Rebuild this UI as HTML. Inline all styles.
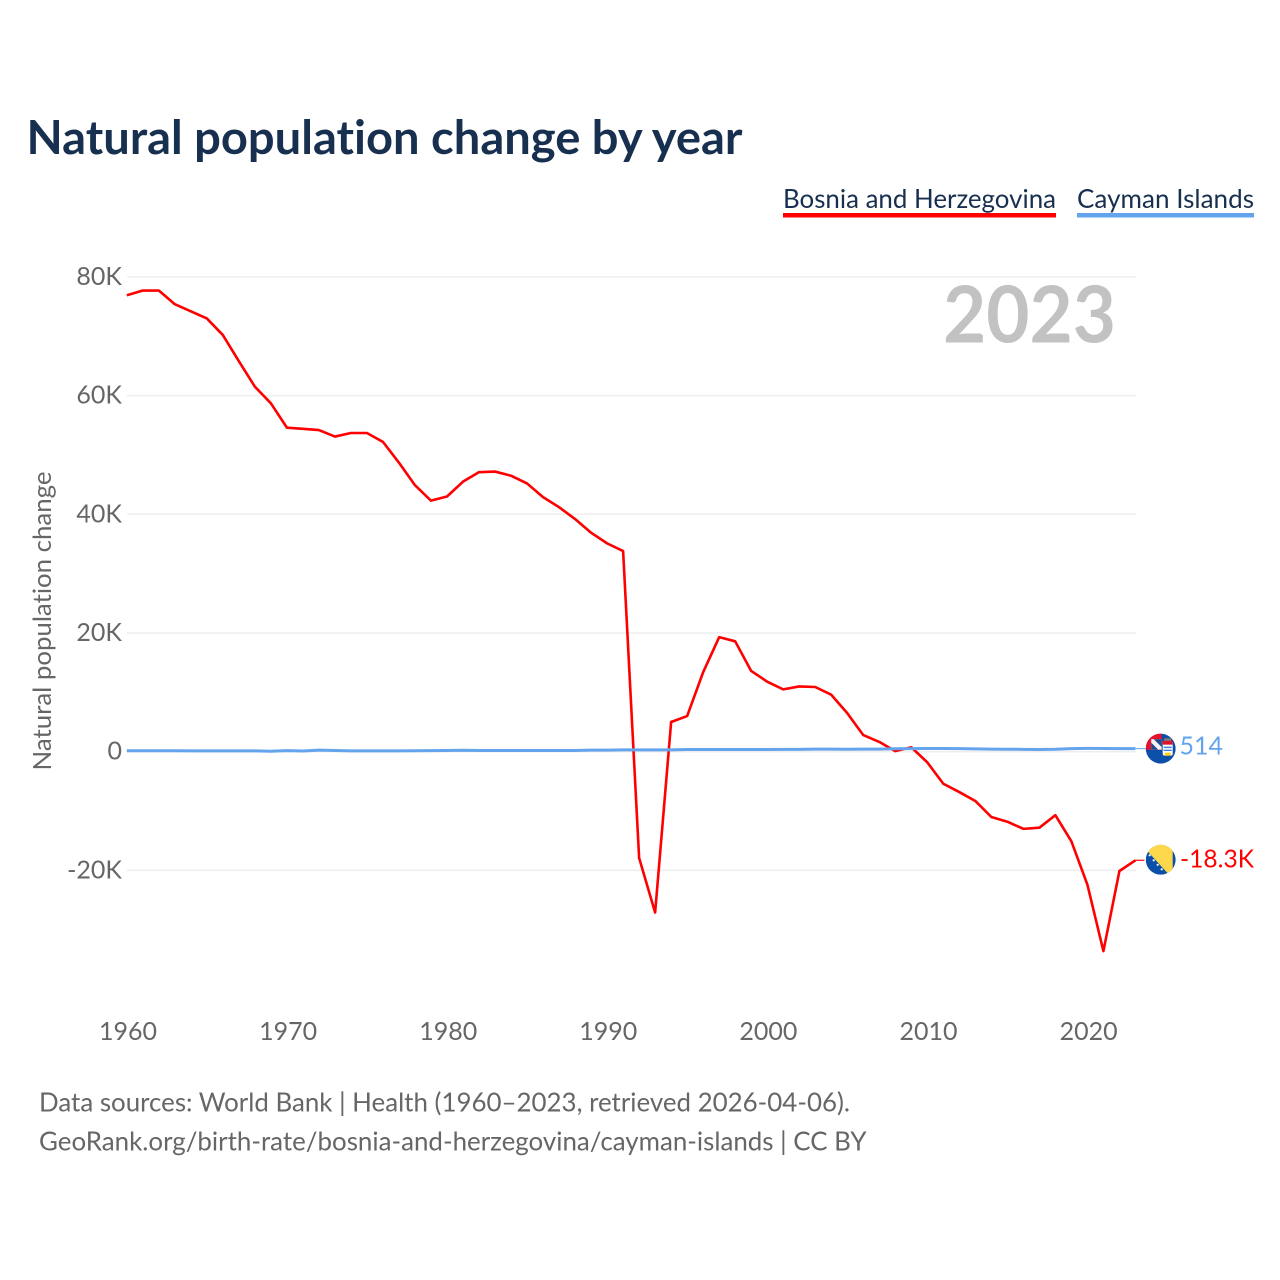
<!DOCTYPE html>
<html lang="en">
<head>
<meta charset="utf-8">
<title>Natural population change by year</title>
<style>
html,body{margin:0;padding:0;background:#fff;}
svg{display:block;}
text{font-family:"Lato","Carlito","Liberation Sans",sans-serif;font-variant-ligatures:none;}
</style>
</head>
<body>
<svg id="chart" width="1280" height="1280" viewBox="0 0 1280 1280" xmlns="http://www.w3.org/2000/svg">
  <defs>
    <clipPath id="flag-clip"><circle cx="0" cy="0" r="15"></circle></clipPath>
  </defs>
  <rect width="1280" height="1280" fill="#fff"></rect>
  <text x="26.5" y="154" font-size="47" font-weight="700" fill="#18304f" textLength="716" lengthAdjust="spacingAndGlyphs">Natural population change by year</text>

  <g>
    <g>
      <text x="783" y="208" font-size="26.5" fill="#18304f" textLength="273" lengthAdjust="spacingAndGlyphs">Bosnia and Herzegovina</text>
      <rect x="783" y="213" width="273" height="4.5" fill="#ff0000"></rect>
    </g>
    <g>
      <text x="1077" y="208" font-size="26.5" fill="#18304f" textLength="177" lengthAdjust="spacingAndGlyphs">Cayman Islands</text>
      <rect x="1077" y="213" width="177" height="4.5" fill="#63a4ec"></rect>
    </g>
  </g>

  <g id="grid"></g>
  <g id="y-ticks"></g>
  <g id="x-ticks"></g>

  <text transform="translate(51,770.5) rotate(-90)" font-size="25.5" fill="#666" textLength="299" lengthAdjust="spacingAndGlyphs">Natural population change</text>

  <text x="943" y="342.5" font-size="79" font-weight="700" fill="#c2c2c2" textLength="173" lengthAdjust="spacingAndGlyphs">2023</text>

  <g id="series"></g>

  <g id="flag-cayman" clip-path="url(#flag-clip)">
    <circle cx="0" cy="0" r="15" fill="#0b4fa8"></circle>
    <rect x="-15" y="-15" width="16" height="16" fill="#e8112d"></rect>
    <rect x="-9.5" y="-9.5" width="10.5" height="10.5" fill="#f4f4f4"></rect>
    <polygon points="-7,-9.5 1,-9.5 1,-1.5" fill="#24478f"></polygon>
    <polygon points="-9.5,-6 -9.5,1 -2.5,1" fill="#24478f"></polygon>
    <rect x="2" y="-8" width="10" height="15" rx="2" fill="#fff"></rect>
    <rect x="2" y="-8" width="10" height="4" fill="#d9142b"></rect>
    <rect x="3" y="-2" width="8" height="1.4" fill="#3b7dd8"></rect>
    <rect x="3" y="1" width="8" height="1.4" fill="#3b7dd8"></rect>
    <rect x="4" y="4" width="6" height="3" fill="#fcd116"></rect>
    <rect x="3.5" y="-10.5" width="7" height="2.5" fill="#777"></rect>
  </g>
  <g id="flag-bosnia" clip-path="url(#flag-clip)">
    <circle cx="0" cy="0" r="15" fill="#0b4fa8"></circle>
    <polygon points="-14,-16 12,-16 12,15 8.3,15 -14.5,-10" fill="#fdd84c"></polygon>
    <g fill="#fff">
      <circle cx="-11" cy="-4.5" r="1.1"></circle>
      <circle cx="-7" cy="0.5" r="1.1"></circle>
      <circle cx="-3" cy="5" r="1.1"></circle>
      <circle cx="1" cy="9.5" r="1.1"></circle>
    </g>
  </g>

  <g id="end-labels"></g>

  <text x="39" y="1111.5" font-size="26.5" fill="#666" textLength="811" lengthAdjust="spacingAndGlyphs">Data sources: World Bank | Health (1960–2023, retrieved 2026-04-06).</text>
  <text x="39" y="1150.5" font-size="26.5" fill="#666" textLength="827.5" lengthAdjust="spacingAndGlyphs">GeoRank.org/birth-rate/bosnia-and-herzegovina/cayman-islands | CC BY</text>
</svg>
<script>
var startYear = 1960;
var bosniaValues = [76.9,77.7,77.7,75.4,74.2,73.0,70.2,65.8,61.5,58.7,54.6,54.4,54.2,53.1,53.7,53.7,52.2,48.7,44.9,42.3,43.0,45.5,47.1,47.2,46.5,45.2,42.9,41.2,39.2,36.9,35.1,33.8,-17.9,-27.1,5.0,6.0,13.4,19.3,18.6,13.6,11.8,10.5,11.0,10.9,9.6,6.5,2.8,1.65,0.1,0.75,-1.8,-5.4,-6.8,-8.3,-11.0,-11.8,-13.0,-12.8,-10.7,-15.1,-22.4,-33.6,-20.1,-18.3];
var caymanValues = [0.15,0.15,0.15,0.16,0.13,0.14,0.14,0.14,0.13,0.08,0.18,0.12,0.26,0.2,0.14,0.14,0.14,0.14,0.15,0.18,0.2,0.24,0.2,0.2,0.2,0.2,0.2,0.2,0.2,0.26,0.27,0.3,0.3,0.3,0.3,0.36,0.38,0.38,0.37,0.37,0.37,0.4,0.4,0.43,0.43,0.42,0.44,0.44,0.5,0.52,0.55,0.55,0.52,0.48,0.44,0.42,0.4,0.38,0.42,0.52,0.56,0.54,0.52,0.514];
var yTickValues = [80,60,40,20,0,-20];
var yTickLabels = ["80K","60K","40K","20K","0","-20K"];
var xTickYears = [1960,1970,1980,1990,2000,2010,2020];
var endLabels = ["514","-18.3K"];

var NS = "http://www.w3.org/2000/svg";
function xScale(year){ return 126.8 + (year - 1960) * 16.01; }
function yScale(v){ return 751.7 - v * 5.935; }
function make(tag, attrs, parent){
  var el = document.createElementNS(NS, tag);
  for (var k in attrs) el.setAttribute(k, attrs[k]);
  parent.appendChild(el);
  return el;
}
var grid = document.getElementById("grid");
var yTicks = document.getElementById("y-ticks");
var xTicks = document.getElementById("x-ticks");
var series = document.getElementById("series");
var ends = document.getElementById("end-labels");

yTickValues.forEach(function(v, i){
  var line = make("line", {x1: 127, x2: 1136, y1: yScale(v), y2: yScale(v), stroke: "#eeeeee", "stroke-width": 1.5}, grid);
  
  
  var t = make("text", {x: 122, y: yScale(v) + 8, "text-anchor": "end", "font-size": 25, fill: "#666"}, yTicks);
  
  
  t.textContent = yTickLabels[i];
});
xTickYears.forEach(function(yr){
  var t = make("text", {x: xScale(yr) + 1.2, y: 1040, "text-anchor": "middle", "font-size": 25, fill: "#666"}, xTicks);
  
  
  t.textContent = String(yr);
});
function linePoints(values){
  return values.map(function(v, i){
    return xScale(startYear + i).toFixed(2) + "," + yScale(v).toFixed(2);
  }).join(" ");
}
var redLine = make("polyline", {points: linePoints(bosniaValues), fill: "none", stroke: "#ff0000", "stroke-width": 2.6, "stroke-linejoin": "round"}, series);


var blueLine = make("polyline", {points: linePoints(caymanValues), fill: "none", stroke: "#63a4ec", "stroke-width": 3, "stroke-linejoin": "round"}, series);



var lastRed = bosniaValues[bosniaValues.length - 1];
var lastBlue = caymanValues[caymanValues.length - 1];
var lastX = xScale(startYear + bosniaValues.length - 1);
var redY = yScale(lastRed);
var blueY = yScale(lastBlue);
var c1 = make("line", {x1: lastX, x2: lastX + 10, y1: blueY, y2: blueY, stroke: "#63a4ec", "stroke-width": 1}, series);


var c2 = make("line", {x1: lastX, x2: lastX + 9, y1: redY, y2: redY, stroke: "#ff0000", "stroke-width": 1.5, "stroke-opacity": 0.8}, series);



document.getElementById("flag-cayman").setAttribute("transform", "translate(1160.7," + blueY + ")");
document.getElementById("flag-bosnia").setAttribute("transform", "translate(1160.7," + (redY - 0.5) + ")");

var l1 = make("text", {x: 1179.5, y: blueY + 6, "font-size": 25, fill: "#63a4ec"}, ends);


l1.textContent = endLabels[0];
var l2 = make("text", {x: 1180, y: redY + 7, "font-size": 25, fill: "#ff0000", textLength: 74, lengthAdjust: "spacingAndGlyphs"}, ends);


l2.textContent = endLabels[1];
</script>
</body>
</html>
